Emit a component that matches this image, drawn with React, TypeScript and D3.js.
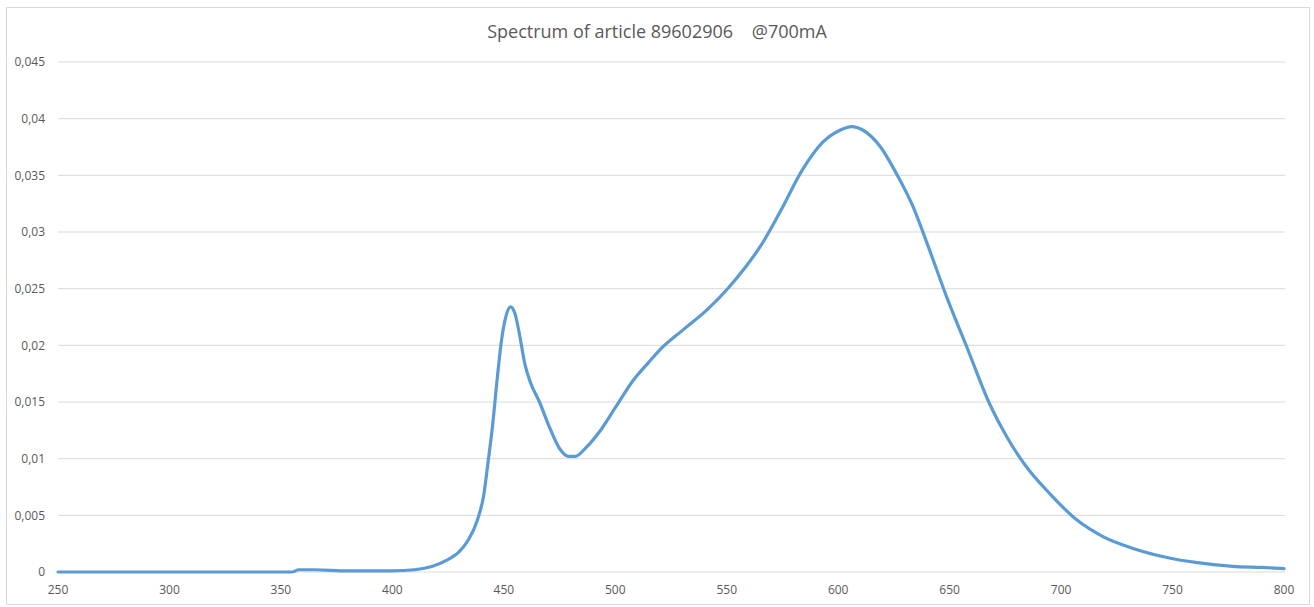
import React from "react";
import * as d3 from "d3";

const wavelengths = [
  250, 300, 355, 358, 365, 380, 400, 410, 418, 424, 430, 434, 438, 441, 443, 445, 447, 449, 451, 453,
  455, 457, 459.5, 462, 466, 470, 475, 479, 482, 487, 493, 500, 508, 515, 520, 530, 541, 550, 558, 565,
  574, 584, 593, 601, 606, 611, 619, 626, 633, 641, 649, 658, 668, 676, 684, 695, 707, 719, 732, 747, 762,
  777, 790, 800,
];
const intensity = [
  0, 0, 0, 0.0002, 0.0002, 0.0001, 0.0001, 0.0002, 0.0005, 0.001, 0.0018, 0.0028, 0.0045, 0.0068, 0.0098,
  0.013, 0.017, 0.0205, 0.0226, 0.0234, 0.0228, 0.021, 0.0183, 0.0167, 0.015, 0.013, 0.0109, 0.0102,
  0.0102, 0.011, 0.0124, 0.0145, 0.0169, 0.0185, 0.0196, 0.0213, 0.0231, 0.0249, 0.0268, 0.0287, 0.0318,
  0.0355, 0.0379, 0.039, 0.0393, 0.039, 0.0375, 0.0352, 0.0325, 0.0284, 0.0241, 0.0197, 0.0148, 0.0118, 0.0094,
  0.0069, 0.0046, 0.0031, 0.0021, 0.0013, 0.0008, 0.0005, 0.0004, 0.0003,
];
const xTicks = [250, 300, 350, 400, 450, 500, 550, 600, 650, 700, 750, 800];
const yTicks = [0, 0.005, 0.01, 0.015, 0.02, 0.025, 0.03, 0.035, 0.04, 0.045];
const title = "Spectrum of article 89602906    @700mA";

export default function App() {
  const W = 1314;
  const H = 607;
  const x = d3.scaleLinear().domain([250, 800]).range([58, 1284]);
  const y = d3.scaleLinear().domain([0, 0.045]).range([572, 62]);
  const pts: [number, number][] = wavelengths.map((w, i) => [w, intensity[i]]);
  const line = d3
    .line<[number, number]>()
    .x((d) => x(d[0]))
    .y((d) => y(d[1]))
    .curve(d3.curveMonotoneX);
  const fmt = (v: number) => String(+v.toFixed(3)).replace(".", ",");
  const font = "'Open Sans', 'Noto Sans', sans-serif";
  return (
    <svg
      width={W}
      height={H}
      style={{ position: "absolute", left: 0, top: 0, background: "#fff" }}
    >
      <rect x={6.5} y={7.5} width={1303} height={597} fill="#fff" stroke="#d9d9d9" strokeWidth={1} />
      <text
        x={657}
        y={38}
        textAnchor="middle"
        fontFamily={font}
        fontSize={18}
        fill="#595959"
        style={{ whiteSpace: "pre" }}
      >
        {title}
      </text>
      {yTicks.map((t) => (
        <g key={t}>
          <line x1={58} x2={1285} y1={y(t)} y2={y(t)} stroke="#d9d9d9" strokeWidth={1} />
          <text
            x={45}
            y={y(t)}
            dy="0.35em"
            textAnchor="end"
            fontFamily={font}
            fontSize={12}
            fill="#595959"
          >
            {fmt(t)}
          </text>
        </g>
      ))}
      {xTicks.map((t) => (
        <text
          key={t}
          x={x(t)}
          y={594}
          textAnchor="middle"
          fontFamily={font}
          fontSize={12}
          fill="#595959"
        >
          {t}
        </text>
      ))}
      <path
        d={line(pts) || ""}
        fill="none"
        stroke="#5b9bd5"
        strokeWidth={3.2}
        strokeLinejoin="round"
        strokeLinecap="round"
      />
    </svg>
  );
}
